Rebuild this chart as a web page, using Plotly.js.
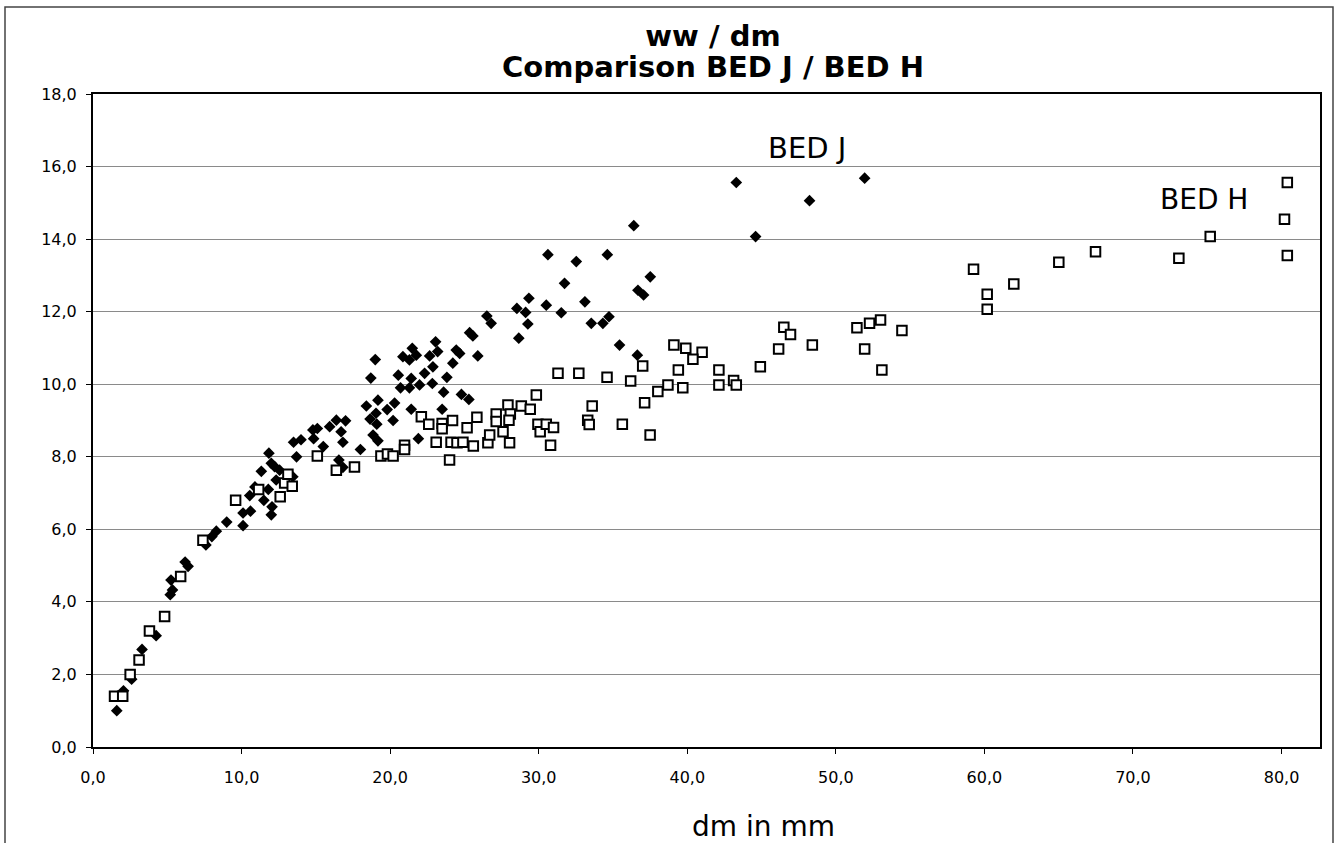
<!DOCTYPE html>
<html>
<head>
<meta charset="utf-8">
<script src="https://cdn.plot.ly/plotly-3.0.1.min.js"></script>
<style>html,body{margin:0;padding:0;background:#fff;overflow:hidden}#chart{width:1335px;height:843px}</style>
</head>
<body>
<div id="chart"></div>
<script>
// BED J (filled diamonds)
var bedJ_x = [1.6,2.05,2.6,3.3,4.25,5.2,5.35,5.25,6.2,6.4,7.6,8.0,8.3,9.0,10.1,10.1,10.6,10.55,10.9,11.5,12.0,12.05,11.8,11.33,11.84,12.0,12.22,12.56,12.33,13.45,13.7,13.5,14.0,14.8,15.1,14.85,15.5,15.93,16.38,17.0,16.7,16.82,16.55,16.82,18.0,18.4,18.7,19.0,18.65,18.85,19.18,19.05,19.1,19.18,19.8,20.3,20.2,20.55,20.86,21.49,21.3,21.76,22.66,23.06,23.2,24.45,24.68,25.9,25.35,25.57,26.8,26.51,29.27,28.66,22.32,21.42,22.88,23.82,24.22,22.84,20.7,21.3,21.98,23.6,21.42,23.5,24.8,25.3,21.9,30.62,32.53,34.62,36.4,37.51,36.68,37.06,31.74,29.34,28.53,29.12,30.51,31.52,33.11,33.54,34.32,34.73,35.44,36.64,43.3,48.23,44.6,51.94];
var bedJ_y = [1.0,1.55,1.87,2.69,3.07,4.2,4.33,4.6,5.1,4.98,5.57,5.8,5.95,6.2,6.1,6.45,6.5,6.93,7.17,6.8,6.4,6.62,7.1,7.6,8.1,7.82,7.73,7.63,7.36,7.45,8.0,8.4,8.47,8.74,8.78,8.5,8.28,8.83,9.01,8.99,8.69,8.4,7.91,7.71,8.2,9.4,10.17,10.68,9.04,8.6,9.56,9.2,8.9,8.44,9.3,9.48,9.0,10.25,10.76,10.99,10.67,10.8,10.78,11.17,10.9,10.94,10.85,10.78,11.42,11.33,11.68,11.88,11.66,11.27,10.3,10.16,10.48,10.19,10.58,10.02,9.9,9.9,9.98,9.78,9.31,9.31,9.72,9.58,8.5,13.57,13.38,13.57,14.37,12.96,12.59,12.46,12.78,12.37,12.09,11.98,12.18,11.97,12.27,11.68,11.68,11.86,11.08,10.8,15.56,15.06,14.07,15.68];

// BED H (open squares)
var bedH_x = [1.45,2.0,2.5,3.1,3.8,4.82,5.9,7.4,9.6,11.15,12.6,12.9,13.12,13.41,15.1,16.38,17.6,19.38,19.82,20.2,20.97,20.97,22.1,22.6,23.1,23.5,23.5,24.2,24.1,24.0,24.5,24.9,25.18,25.84,25.6,26.58,26.7,27.14,27.14,27.6,28.04,27.93,28.09,28.0,28.83,29.43,29.84,29.95,30.1,30.51,31.0,30.8,31.3,32.7,34.6,36.19,37.0,39.1,39.9,41.0,40.38,39.4,38.7,38.02,39.7,37.13,37.5,35.63,33.6,33.3,33.4,42.13,42.13,43.12,43.3,44.92,46.15,46.5,46.95,48.42,51.42,52.27,53.01,51.94,53.1,54.45,59.27,60.19,60.19,61.98,65.01,67.48,73.09,75.2,80.39,80.2,80.39];
var bedH_y = [1.4,1.4,2.0,2.4,3.2,3.6,4.7,5.7,6.8,7.1,6.9,7.28,7.52,7.19,8.02,7.63,7.72,8.02,8.08,8.02,8.32,8.2,9.1,8.9,8.4,8.92,8.77,9.0,8.4,7.91,8.39,8.4,8.8,9.09,8.3,8.39,8.6,9.18,8.97,8.69,8.39,9.43,9.18,9.01,9.4,9.31,9.7,8.9,8.69,8.9,8.81,8.32,10.3,10.3,10.19,10.09,10.5,11.08,10.99,10.88,10.69,10.39,9.98,9.8,9.9,9.49,8.6,8.9,9.4,9.01,8.89,10.39,9.98,10.1,9.98,10.48,10.97,11.57,11.37,11.08,11.56,11.68,11.77,10.97,10.39,11.48,13.17,12.48,12.07,12.76,13.36,13.65,13.47,14.07,15.56,14.55,13.55];

var titleLine1 = "ww / dm";
var titleLine2 = "Comparison BED J / BED H";
var xTitle = "dm in mm";
var labelJ = "BED J";
var labelH = "BED H";

var traces = [
  {type:'scatter', mode:'markers', name:labelJ, x:bedJ_x, y:bedJ_y,
   marker:{symbol:'diamond', size:9, color:'#000', line:{width:0}}},
  {type:'scatter', mode:'markers', name:labelH, x:bedH_x, y:bedH_y,
   marker:{symbol:'square', size:9.5, color:'#fff', line:{width:2, color:'#000'}}}
];

var font = "DejaVu Sans, Arial, sans-serif";
var layout = {
  width:1335, height:843,
  margin:{l:93, r:15, t:94, b:96},
  paper_bgcolor:'#fff', plot_bgcolor:'#fff',
  showlegend:false,
  separators:',.',
  font:{family:font, color:'#000', size:16},
  title:{text:'<b>'+titleLine1+'</b>', font:{family:font, size:29, color:'#000'},
         x:713/1335, xanchor:'center', xref:'container', yref:'container', y:1-36/843, yanchor:'middle'},
  xaxis:{range:[0,82.59], dtick:10, tick0:0, tickformat:'.1f', showgrid:false, zeroline:false,
         showline:true, linecolor:'#000', linewidth:2, mirror:true,
         ticks:'outside', ticklen:5, tickcolor:'#000', tickwidth:1,
         ticklabelstandoff:10, tickfont:{family:font, size:16, color:'#000'}},
  yaxis:{range:[0,18], dtick:2, tick0:0, tickformat:'.1f', showgrid:true, gridcolor:'#8a8a8a', gridwidth:1,
         zeroline:false, showline:true, linecolor:'#000', linewidth:2, mirror:true,
         ticks:'outside', ticklen:5, tickcolor:'#000', tickwidth:1,
         ticklabelstandoff:6, tickfont:{family:font, size:16, color:'#000'}},
  annotations:[
    {text:'<b>'+titleLine2+'</b>', xref:'paper', yref:'paper', x:(713-93)/1227, y:(747-67)/653,
     xanchor:'center', yanchor:'middle', showarrow:false, font:{family:font, size:29, color:'#000'}},
    {text:xTitle, xref:'paper', yref:'paper', x:(763-93)/1227, y:(747-826)/653,
     xanchor:'center', yanchor:'middle', showarrow:false, font:{family:font, size:28, color:'#000'}},
    {text:labelJ, xref:'x', yref:'y', x:48.03, y:16.51, xanchor:'center', yanchor:'middle',
     showarrow:false, font:{family:font, size:29, color:'#000'}},
    {text:labelH, xref:'x', yref:'y', x:74.75, y:15.1, xanchor:'center', yanchor:'middle',
     showarrow:false, font:{family:font, size:28, color:'#000'}}
  ],
  shapes:[
    {type:'rect', xref:'paper', yref:'paper', x0:(5-93)/1227, x1:(1333-93)/1227, y0:-0.4, y1:(747-7)/653,
     line:{color:'#444', width:1.5}, fillcolor:'rgba(0,0,0,0)', layer:'above'}
  ]
};

Plotly.newPlot('chart', traces, layout, {displayModeBar:false, staticPlot:true});
</script>
</body>
</html>
